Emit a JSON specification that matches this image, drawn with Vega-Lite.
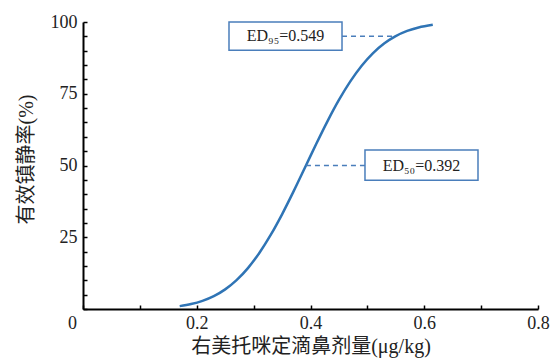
{
  "$schema": "https://vega.github.io/schema/vega-lite/v6.json",
  "width": 455,
  "height": 287,
  "autosize": {"type": "none"},
  "padding": {"left": 83, "top": 22, "right": 17, "bottom": 51},
  "background": "white",
  "config": {
    "view": {"stroke": null},
    "axis": {
      "labelFont": "Liberation Serif",
      "labelFontSize": 18,
      "labelColor": "#222",
      "labelOverlap": false,
      "labelFlush": false,
      "titleFont": "Liberation Serif, Noto Sans CJK SC",
      "titleFontSize": 20,
      "titleFontWeight": "normal",
      "titleColor": "#222",
      "domainColor": "#000",
      "domainWidth": 2,
      "tickColor": "#000",
      "tickWidth": 1.5,
      "tickSize": -4,
      "grid": false
    }
  },
  "datasets": {
    "curve": [
      {"x": 0.17, "y": 1.0},
      {"x": 0.19, "y": 1.71},
      {"x": 0.21, "y": 2.83},
      {"x": 0.23, "y": 4.48},
      {"x": 0.25, "y": 6.84},
      {"x": 0.27, "y": 10.06},
      {"x": 0.29, "y": 14.26},
      {"x": 0.31, "y": 19.52},
      {"x": 0.33, "y": 25.8},
      {"x": 0.35, "y": 32.99},
      {"x": 0.37, "y": 40.88},
      {"x": 0.392, "y": 50.0},
      {"x": 0.41, "y": 57.48},
      {"x": 0.43, "y": 65.47},
      {"x": 0.45, "y": 72.83},
      {"x": 0.47, "y": 79.31},
      {"x": 0.49, "y": 84.78},
      {"x": 0.51, "y": 89.18},
      {"x": 0.53, "y": 92.59},
      {"x": 0.549, "y": 95.0},
      {"x": 0.57, "y": 96.89},
      {"x": 0.59, "y": 98.1},
      {"x": 0.615, "y": 99.03}
    ],
    "dash": [
      {"x": 0.4554, "x2": 0.549, "y": 95},
      {"x": 0.392, "x2": 0.4958, "y": 50}
    ],
    "box": [
      {"x": 0.2567, "x2": 0.4554, "y": 90.2, "y2": 100},
      {"x": 0.4958, "x2": 0.6945, "y": 44.9, "y2": 55.4}
    ],
    "label": [
      {"x": 0.356, "y": 95, "label": "ED₉₅=0.549"},
      {"x": 0.595, "y": 50, "label": "ED₅₀=0.392"}
    ]
  },
  "encoding": {
    "x": {
      "field": "x", "type": "quantitative",
      "scale": {"domain": [0, 0.8], "nice": false},
      "axis": {
        "title": "右美托咪定滴鼻剂量(μg/kg)",
        "values": [0, 0.1, 0.2, 0.3, 0.4, 0.5, 0.6, 0.7, 0.8],
        "labelExpr": "round(datum.value * 10) % 2 === 0 ? (datum.value === 0 ? '0' : format(datum.value, '.1f')) : ''",
        "labelPadding": 9,
        "labelOffset": {"condition": {"test": "datum.value === 0", "value": -11}, "value": 0},
        "titlePadding": 4
      }
    },
    "y": {
      "field": "y", "type": "quantitative",
      "scale": {"domain": [0, 100], "nice": false},
      "axis": {
        "title": "有效镇静率(%)",
        "values": [0, 5, 10, 15, 20, 25, 30, 35, 40, 45, 50, 55, 60, 65, 70, 75, 80, 85, 90, 95, 100],
        "labelExpr": "datum.value % 25 === 0 && datum.value > 0 ? datum.label : ''",
        "labelPadding": 10,
        "titlePadding": 14,
        "titleY": 137
      }
    }
  },
  "layer": [
    {
      "data": {"name": "curve"},
      "mark": {"type": "line", "color": "#2f74b5", "strokeWidth": 2.5, "interpolate": "monotone"}
    },
    {
      "data": {"name": "dash"},
      "mark": {"type": "rule", "color": "#4a7ebb", "strokeWidth": 1.5, "strokeDash": [5, 4]},
      "encoding": {"x2": {"field": "x2"}}
    },
    {
      "data": {"name": "box"},
      "mark": {"type": "rect", "fill": "white", "stroke": "#4a7ebb", "strokeWidth": 1.5},
      "encoding": {"x2": {"field": "x2"}, "y2": {"field": "y2"}}
    },
    {
      "data": {"name": "label"},
      "mark": {"type": "text", "font": "Liberation Serif", "fontSize": 16, "color": "#222", "align": "center", "baseline": "middle"},
      "encoding": {"text": {"field": "label"}}
    }
  ]
}
